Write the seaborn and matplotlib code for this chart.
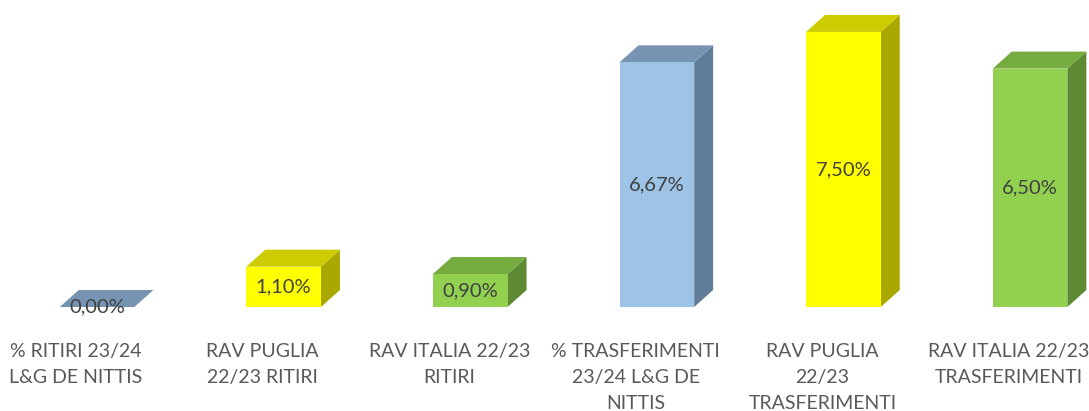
import matplotlib
matplotlib.use("Agg")
import matplotlib.pyplot as plt
import matplotlib.transforms as mtransforms
from matplotlib.patches import Polygon
import seaborn as sns
import pandas as pd

categories = [
    "% RITIRI 23/24\nL&G DE NITTIS",
    "RAV PUGLIA\n22/23 RITIRI",
    "RAV ITALIA 22/23\nRITIRI",
    "% TRASFERIMENTI\n23/24 L&G DE\nNITTIS",
    "RAV PUGLIA\n22/23\nTRASFERIMENTI",
    "RAV ITALIA 22/23\nTRASFERIMENTI",
]
values = [0.00, 1.10, 0.90, 6.67, 7.50, 6.50]
front_colors = ["#9DC3E6", "#FFFF00", "#92D050", "#9DC3E6", "#FFFF00", "#92D050"]
side_colors = ["#627D97", "#A8A800", "#5F8A34", "#627D97", "#A8A800", "#5F8A34"]
top_colors = ["#7693B2", "#CCCC00", "#76AB40", "#7693B2", "#CCCC00", "#76AB40"]

sns.set_theme(style="white")
plt.rcParams["font.family"] = ["Lato", "DejaVu Sans"]

fig = plt.figure(figsize=(10.89, 4.11), dpi=100)
ax = fig.add_axes([0, 0.253, 1, 0.747])

df = pd.DataFrame({"cat": categories, "val": values})
sns.barplot(data=df, x="cat", y="val", hue="cat", palette=front_colors,
            saturation=1, legend=False, width=0.40, ax=ax, zorder=3,
            linewidth=0, edgecolor="none")

ax.set_xlim(-0.52, 5.316)
ax.set_ylim(0, 8.37)
for s in ax.spines.values():
    s.set_visible(False)
ax.set_yticks([])
ax.set_xlabel("")
ax.set_ylabel("")

# depth offsets in pixels -> data units
fig.canvas.draw()
(x0p, y0p) = ax.transData.transform((0, 0))
(x1p, y1p) = ax.transData.transform((1, 1))
dx = 19 / (x1p - x0p)
dy = 17 / (y1p - y0p)

patches = sorted(ax.patches, key=lambda p: p.get_x())
for i, p in enumerate(patches):
    x0 = p.get_x()
    w = p.get_width()
    h = p.get_height()
    x1 = x0 + w
    side = Polygon([(x1, 0), (x1, h), (x1 + dx, h + dy), (x1 + dx, dy)],
                   closed=True, facecolor=side_colors[i], edgecolor="none", zorder=2)
    top = Polygon([(x0, h), (x1, h), (x1 + dx, h + dy), (x0 + dx, h + dy)],
                  closed=True, facecolor=top_colors[i], edgecolor="none", zorder=2)
    ax.add_patch(side)
    ax.add_patch(top)
    txt = f"{values[i]:.2f}".replace(".", ",") + "%"
    ax.text(x0 + w / 2, h / 2, txt, ha="center", va="center",
            fontsize=14.5, color="#404040", zorder=5)

ax.set_xticks(range(len(categories)))
ax.set_xticklabels(categories, fontsize=14, color="#595959", linespacing=1.65)
ax.tick_params(axis="x", length=0, pad=26)
off = mtransforms.ScaledTranslation(-21 / 100, 0, fig.dpi_scale_trans)
for lbl in ax.get_xticklabels():
    lbl.set_transform(lbl.get_transform() + off)

fig.savefig("out.png", dpi=100)
